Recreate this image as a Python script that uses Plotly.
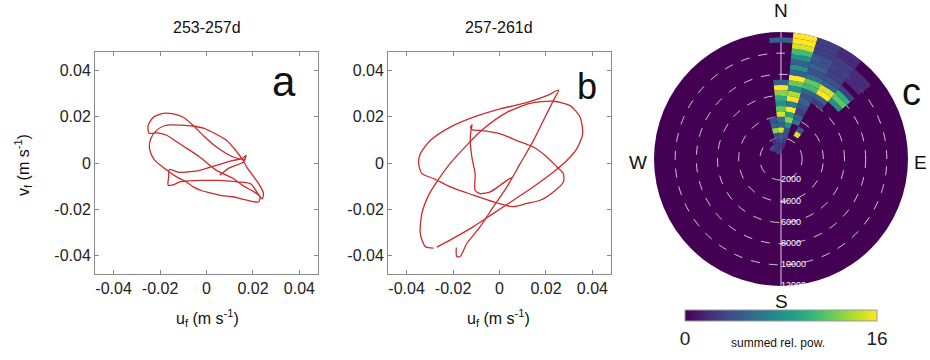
import plotly.graph_objects as go

# ---------------- data (hodographs, values in mm/s, converted to m/s) ----------------
a_u_mm = [16.5, 11.5, 4.3, -1.4, -5.7, -10.0, -14.3, -18.6, -22.9, -25.1, -24.8,
          -21.0, -17.2, -11.5, -8.0, -2.9, 4.3, 11.5, 16.0, 20.5, 23.0, 22.5, 19.5,
          15.0, 11.5, 6.0, 2.9, -2.0, -5.7, -9.0, -12.9, -18.0, -22.5, -24.5, -24.0, -21.5,
          -18.5, -15.8, -11.0, -6.0, -1.0, 3.5, 8.6, 12.5, 15.5, 17.5, 20.0, 22.5, 24.5, 24.0, 22.0,
          19.0, 15.0, 10.0, 5.7, -1.0, -6.0, -11.5, -14.0, -16.5, -16.3, -16.0,
          -12.0, -8.6, -2.9, 4.3, 11.5, 15.5, 17.0, 16.0, 10.0, 5.7]
a_v_mm = [1.4, 2.6, 6.9, 11.9, 16.2, 19.8, 21.2, 21.5, 19.8, 16.2, 13.0,
          13.0, 12.0, 8.3, 6.0, 2.6, -3.2, -6.7, -10.0, -12.5, -14.5, -16.8, -16.6,
          -15.5, -14.6, -14.0, -13.2, -12.0, -10.3, -8.0, -6.0, -2.4, 1.5, 6.0, 10.5, 14.1,
          16.0, 16.5, 16.4, 16.0, 15.0, 12.8, 9.8, 5.5, 1.5, -2.0, -5.5, -9.0, -13.0, -15.5, -13.0,
          -9.0, -8.3, -7.8, -7.5, -7.5, -7.6, -8.2, -9.3, -9.6, -6.0, -2.8,
          -4.0, -3.9, -3.2, -1.0, 1.1, 2.0, 3.3, 0.5, -2.0, -5.3]

b_u_mm = [5.3, 3.2, 0.3, -4.0, -8.3, -10.5, -10.5, -11.9, -12.6, -12.3, -11.8, -12.5, -11.5,
          -8.3, 0.3, 7.5, 14.6, 20.4, 24.7, 27.5, 27.5, 23.2, 17.5, 11.8, 6.0, -2.6, -11.2,
          -21.2, -28.4, -33.4, -34.8, -34.1, -29.8, -21.2, -11.2, 0.3, 12.0, 20.4, 25.4,
          23.2, 18.9, 14.6, 8.9, 3.2, -2.6, -8.3, -14.0, -16.9, -18.4, -18.6]
b_v_mm = [-6.3, -7.5, -9.6, -12.5, -13.2, -11.8, -4.6, 2.6, 9.7, 14.0, 16.5, 15.5, 14.3,
          14.1, 12.6, 9.7, 6.9, 2.6, -1.7, -4.6, -8.2, -12.5, -16.1, -17.5, -18.9, -16.8, -13.9,
          -10.3, -6.7, -4.6, -0.3, 4.0, 9.7, 15.5, 19.8, 23.4, 26.2, 29.1, 31.5,
          27.0, 18.4, 9.7, -0.3, -10.3, -18.9, -27.5, -34.7, -40.4, -40.4, -36.5]
b_loop_u_mm = [-28.4, -32.0, -34.1, -33.4, -30.5, -27.0, -21.9, -15.5, -6.9, 3.2, 13.2, 23.2,
               30.4, 34.7, 35.8, 33.3, 29.0, 23.2, 14.6, 6.0, -2.6, -11.2, -19.8, -27.0]
b_loop_v_mm = [-36.8, -36.1, -30.4, -21.8, -13.9, -8.2, -1.0, 6.2, 14.8, 21.9, 25.8, 26.7,
               24.8, 19.8, 12.6, 6.2, 1.1, -3.9, -10.3, -16.1, -21.8, -27.5, -32.5, -36.4]

tick_vals = [-0.04, -0.02, 0, 0.02, 0.04]
tick_text = ["-0.04", "-0.02", "0", "0.02", "0.04"]

# ---------------- data (polar summed relative power) ----------------
theta_bins = [-45, -33.75, -22.5, -11.25, 0, 11.25, 22.5, 33.75, 45]
r_bins = [0, 500, 1000, 1500, 2000, 2500, 3000, 3500, 4000, 4500, 5000, 5500,
          6000, 6500, 7000, 7500, 8000, 8500, 9000, 9500, 10000, 10500, 11000, 11500]
r_width = 500
theta_width = 11.25
rel_pow = {
    -45:    [0, 0, 3, 0, 0, 0, 0, 0, 0, 0, 0, 0, 0, 0, 0, 0, 0, 0, 0, 0, 0, 0, 0, 0],
    -33.75: [0, 3, 4, 0, 0, 0, 0, 0, 0, 0, 0, 0, 0, 0, 0, 0, 0, 0, 0, 0, 0, 0, 0, 0],
    -22.5:  [0, 3, 3, 2, 0, 0, 0, 0, 0, 0, 0, 0, 0, 0, 0, 0, 0, 0, 0, 0, 0, 0, 0, 0],
    -11.25: [0, 3, 3, 3, 4, 13, 5, 4, 0, 0, 0, 0, 0, 0, 0, 0, 0, 0, 0, 0, 0, 0, 0, 0],
    0:      [3, 3, 3, 4, 5, 15, 5, 6, 15, 12, 8, 10, 13, 16, 5, 0, 0, 0, 0, 0, 0, 0, 5, 0],
    11.25:  [0, 0, 2, 3, 4, 4, 8, 13, 9, 16, 7, 16, 14, 8, 12, 16, 5, 8, 5, 8, 11, 15, 16, 16],
    22.5:   [0, 0, 0, 0, 0, 0, 0, 6, 5, 3, 4, 5, 4, 5, 11, 12, 6, 4, 5, 4, 4, 3, 3, 3],
    33.75:  [0, 0, 0, 0, 0, 15, 4, 0, 0, 0, 0, 0, 3, 5, 16, 15, 5, 4, 3, 3, 3, 3, 2, 2],
    45:     [0, 0, 0, 0, 0, 0, 0, 0, 0, 0, 0, 0, 0, 0, 8, 12, 10, 3, 0, 2, 2, 2, 0, 0],
}
radial_ticks = [2000, 4000, 6000, 8000, 10000, 12000]
radial_labels = ["2000", "4000", "6000", "8000", "10000", "12000"]
label_dir = 180  # compass direction along which the radial labels are written (south)
cbar_ticks = [0, 16]

# ---------------- build figure ----------------
to_ms = lambda arr: [v / 1000.0 for v in arr]
line_style = dict(color="#cc2b2b", width=1.3, shape="spline", smoothing=0.7)

fig = go.Figure()
fig.add_trace(go.Scatter(x=to_ms(a_u_mm), y=to_ms(a_v_mm), mode="lines", line=line_style,
                         xaxis="x", yaxis="y", hoverinfo="skip"))
fig.add_trace(go.Scatter(x=to_ms(b_u_mm), y=to_ms(b_v_mm), mode="lines", line=line_style,
                         xaxis="x2", yaxis="y2", hoverinfo="skip"))
fig.add_trace(go.Scatter(x=to_ms(b_loop_u_mm), y=to_ms(b_loop_v_mm), mode="lines", line=line_style,
                         xaxis="x2", yaxis="y2", hoverinfo="skip"))

th, base, col = [], [], []
for t in theta_bins:
    for rb, val in zip(r_bins, rel_pow[t]):
        if val > 0:
            th.append(t)
            base.append(rb)
            col.append(val)

fig.add_trace(go.Barpolar(
    theta=th, base=base, r=[r_width] * len(th), width=[theta_width] * len(th),
    marker=dict(color=col, colorscale="Viridis", cmin=0, cmax=16, line=dict(width=0),
                colorbar=dict(orientation="h", x=781 / 930, xanchor="center",
                              y=1 - 310 / 360, yanchor="top", len=192, lenmode="pixels",
                              thickness=11, xpad=0, ypad=0, outlinewidth=1, outlinecolor="#999",
                              ticks="inside", ticklen=3, tickcolor="#555",
                              tickvals=cbar_ticks,
                              tickfont=dict(size=19, color="#222", family="Arial"))),
    subplot="polar", hoverinfo="skip"))

fig.add_trace(go.Scatterpolar(
    r=radial_ticks, theta=[label_dir] * len(radial_ticks), text=radial_labels,
    mode="text", textposition="middle right",
    textfont=dict(size=9, color="white", family="Arial"),
    subplot="polar", hoverinfo="skip"))

axis_common = dict(range=[-0.048, 0.048], tickvals=tick_vals, ticktext=tick_text,
                   showgrid=False, zeroline=False, showline=True, linecolor="#8a8a8a",
                   linewidth=1, mirror="ticks", ticks="inside", ticklen=4, tickcolor="#8a8a8a",
                   tickfont=dict(size=16, color="#222", family="Arial"))

ya_dom = [1 - 274 / 360, 1 - 52 / 360]
fig.update_layout(
    width=930, height=360, margin=dict(l=0, r=0, t=0, b=0),
    paper_bgcolor="white", plot_bgcolor="white", showlegend=False,
    font=dict(family="Arial", color="#222"),
    xaxis=dict(domain=[95 / 930, 318 / 930], anchor="y", **axis_common),
    yaxis=dict(domain=ya_dom, anchor="x", **axis_common),
    xaxis2=dict(domain=[388 / 930, 611 / 930], anchor="y2", **axis_common),
    yaxis2=dict(domain=ya_dom, anchor="x2", **axis_common),
    polar=dict(
        domain=dict(x=[654 / 930, 908 / 930], y=[1 - 286 / 360, 1 - 32 / 360]),
        bgcolor="#440154",
        angularaxis=dict(rotation=90, direction="clockwise", tickvals=[0, 180],
                         showticklabels=False, ticks="", showline=False,
                         showgrid=True, gridcolor="#e6c6ea", gridwidth=1.3,
                         layer="above traces"),
        radialaxis=dict(range=[0, 12000], tickvals=radial_ticks, angle=-90,
                        showticklabels=False,
                        showgrid=True, griddash="dash", gridcolor="rgba(255,255,255,0.75)",
                        gridwidth=1, showline=False, ticks="",
                        layer="below traces"),
    ),
)

def px(x, y):
    return x / 930, 1 - y / 360

annots = [
    ("253-257d", 207, 28, 16, 0),
    ("257-261d", 499, 28, 16, 0),
    ("u<sub>f</sub> (m s<sup>-1</sup>)", 207, 318, 16, 0),
    ("u<sub>f</sub> (m s<sup>-1</sup>)", 499, 318, 16, 0),
    ("v<sub>f</sub> (m s<sup>-1</sup>)", 23, 165, 16, -90),
    ("a", 284, 82, 42, 0),
    ("b", 587, 86, 36, 0),
    ("c", 911, 92, 38, 0),
    ("N", 781, 10, 19, 0),
    ("W", 638, 163, 19, 0),
    ("E", 920, 163, 19, 0),
    ("S", 781, 301, 19, 0),
    ("summed rel. pow.", 778, 343, 12, 0),
]
for text, x, y, size, ang in annots:
    xp, yp = px(x, y)
    fig.add_annotation(text=text, x=xp, y=yp, xref="paper", yref="paper",
                       showarrow=False, xanchor="center", yanchor="middle",
                       textangle=ang, font=dict(size=size, color="#111", family="Arial"))

fig.write_html("out.html")
